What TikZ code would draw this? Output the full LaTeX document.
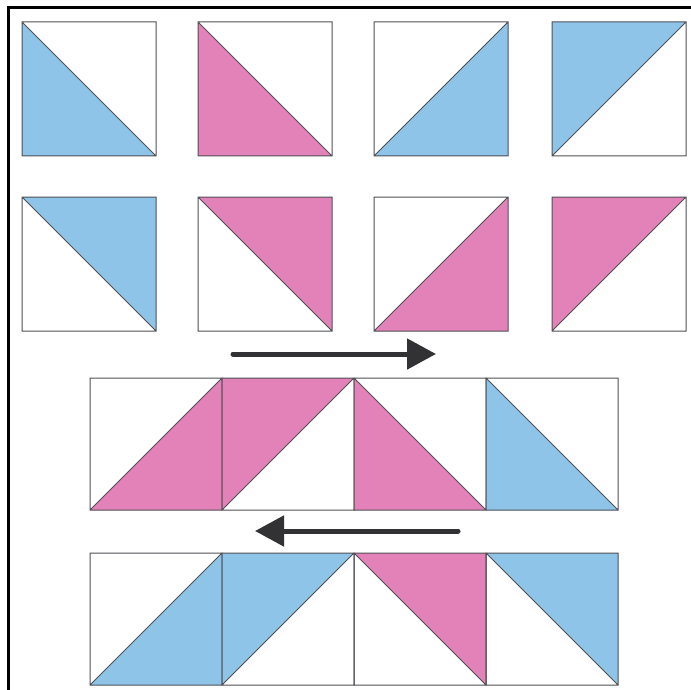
\documentclass[tikz,border=0pt]{standalone}
\usetikzlibrary{arrows.meta}
\definecolor{qblue}{RGB}{141,196,232}
\definecolor{qpink}{RGB}{226,130,184}
\definecolor{qline}{RGB}{80,80,85}
\definecolor{qarrow}{RGB}{50,50,52}
\newcommand\hstLL[4]{\fill[#4] (#1,#2) -- ++(0,#3) -- ++(#3,0) -- cycle;
  \draw[edge] (#1,#2) rectangle ++(#3,#3) (#1,#2) -- ++(#3,#3);}
\newcommand\hstUR[4]{\fill[#4] (#1,#2) -- ++(#3,0) -- ++(0,#3) -- cycle;
  \draw[edge] (#1,#2) rectangle ++(#3,#3) (#1,#2) -- ++(#3,#3);}
\newcommand\hstLR[4]{\fill[#4] (#1,#2) ++(0,#3) -- ++(#3,0) -- ++(0,-#3) -- cycle;
  \draw[edge] (#1,#2) rectangle ++(#3,#3) (#1,#2) ++(0,#3) -- ++(#3,-#3);}
\newcommand\hstUL[4]{\fill[#4] (#1,#2) -- ++(#3,0) -- ++(-#3,#3) -- cycle;
  \draw[edge] (#1,#2) rectangle ++(#3,#3) (#1,#2) ++(0,#3) -- ++(#3,-#3);}
\begin{document}
\begin{tikzpicture}[x=1pt,y=-1pt,
  edge/.style={draw=qline, line width=1pt, line join=miter},
  bigarrow/.style={draw=qarrow, line width=5pt, line cap=round,
    -{Triangle[length=29pt,width=30pt]}}]
\useasboundingbox[fill=white] (0,0) rectangle (691,690);
% frame
\draw[line width=3pt] (8,690) -- (8,8) -- (691,8);
% row 1
\hstLL{22}{22}{134}{qblue}
\hstLL{198}{22}{134}{qpink}
\hstLR{374}{22}{134}{qblue}
\hstUL{552}{22}{134}{qblue}
% row 2
\hstUR{22}{197}{134}{qblue}
\hstUR{198}{197}{134}{qpink}
\hstLR{374}{197}{134}{qpink}
\hstUL{552}{197}{134}{qpink}
% arrow right
\coordinate (ra) at (233,354);
\coordinate (rb) at (436,354);
\draw[bigarrow] (ra) -- (rb);
% row 3
\hstLR{90}{378}{132}{qpink}
\hstUL{222}{378}{132}{qpink}
\hstLL{354}{378}{132}{qpink}
\hstLL{486}{378}{132}{qblue}
% arrow left
\coordinate (la) at (458,531);
\coordinate (lb) at (255,531);
\draw[bigarrow] (la) -- (lb);
% row 4
\hstLR{90}{553}{132}{qblue}
\hstUL{222}{553}{132}{qblue}
\hstUR{354}{553}{132}{qpink}
\hstUR{486}{553}{132}{qblue}
\end{tikzpicture}
\end{document}
